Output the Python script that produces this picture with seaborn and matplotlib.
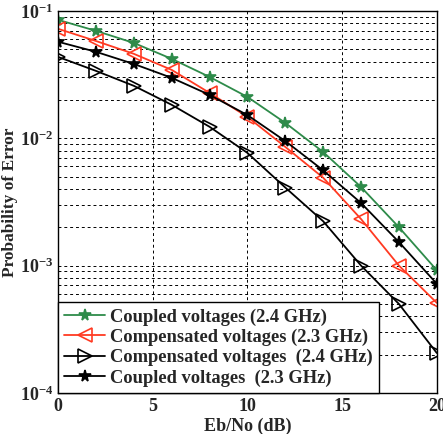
import matplotlib
matplotlib.use("Agg")
import matplotlib.pyplot as plt
import seaborn as sns
import pandas as pd
import numpy as np
from matplotlib.ticker import LogLocator, FixedLocator

ebno = [0, 2, 4, 6, 8, 10, 12, 14, 16, 18, 20]
coupled_24 = [0.085, 0.0697, 0.056, 0.042, 0.0303, 0.0211, 0.0132, 0.0078, 0.00414, 0.0020, 0.00092]
comp_23 = [0.0723, 0.058, 0.046, 0.0344, 0.0227, 0.0147, 0.00855, 0.0049, 0.00232, 0.0010, 0.00051]
comp_24 = [0.0435, 0.0338, 0.0258, 0.0183, 0.0123, 0.00767, 0.0041, 0.00223, 0.0010, 0.0005, 0.000206]
coupled_23 = [0.0572, 0.0477, 0.0383, 0.0298, 0.0219, 0.0152, 0.0095, 0.0056, 0.0031, 0.00153, 0.00072]

labels = ["Coupled voltages (2.4 GHz)", "Compensated voltages (2.3 GHz)",
          "Compensated voltages  (2.4 GHz)", "Coupled voltages  (2.3 GHz)"]
series = [coupled_24, comp_23, comp_24, coupled_23]
colors = ["#2e8b4a", "#ff3a22", "#000000", "#000000"]
markers = ["*", "<", ">", "*"]
msizes = [8.5, 9.5, 9.5, 8.5]
mfaces = ["#2e8b4a", "none", "none", "#000000"]

sns.set_theme(style="white")
plt.rcParams["font.family"] = ["Liberation Serif", "DejaVu Serif"]
plt.rcParams["font.weight"] = "bold"
plt.rcParams["mathtext.fontset"] = "custom"
plt.rcParams["mathtext.rm"] = "Liberation Serif:bold"
plt.rcParams["mathtext.it"] = "Liberation Serif:bold"
plt.rcParams["mathtext.bf"] = "Liberation Serif:bold"
plt.rcParams["mathtext.default"] = "rm"

fig = plt.figure(figsize=(4.43, 4.34), dpi=100)
ax = fig.add_axes([0.131, 0.0945, 0.855, 0.8805])

rows = []
for lab, vals in zip(labels, series):
    for x, v in zip(ebno, vals):
        rows.append({"Eb/No": x, "Pe": v, "series": lab})
df = pd.DataFrame(rows)

for lab, c, m, ms, mf in zip(labels, colors, markers, msizes, mfaces):
    sub = df[df["series"] == lab]
    sns.lineplot(data=sub, x="Eb/No", y="Pe", ax=ax, color=c, marker=m,
                 markersize=ms, markerfacecolor=mf, markeredgecolor=c,
                 markeredgewidth=1.2, linewidth=1.3, label=lab)

ax.set_yscale("log")
ax.set_xlim(0, 20)
ax.set_ylim(1e-4, 1e-1)
ax.xaxis.set_major_locator(FixedLocator([0, 5, 10, 15, 20]))
ax.yaxis.set_major_locator(LogLocator(base=10, numticks=10))
ax.yaxis.set_minor_locator(LogLocator(base=10, subs=np.arange(2, 10), numticks=20))
ax.grid(True, which="major", color="black", linestyle=(0, (3, 3)), linewidth=0.7)
ax.grid(True, which="minor", axis="y", color="black", linestyle=(0, (3, 3)), linewidth=0.7)
ax.tick_params(axis="both", which="both", direction="in", labelsize=13, length=4)
ax.tick_params(axis="y", which="minor", length=2)
for lbl in ax.get_xticklabels() + ax.get_yticklabels():
    lbl.set_fontweight("bold")
for sp in ax.spines.values():
    sp.set_color("black")
    sp.set_linewidth(1.0)

ax.set_xlabel("Eb/No (dB)", fontsize=13, fontweight="bold", labelpad=2)
ax.set_ylabel("Probability of Error", fontsize=12.5, fontweight="bold")
ax.yaxis.set_label_coords(-0.106, 0.5)

leg = ax.legend(loc="lower left", frameon=True, fancybox=False,
                borderpad=0.35, labelspacing=0.16, handlelength=2.2, handletextpad=0.25,
                borderaxespad=0.0, prop={"weight": "bold", "size": 13.3})
leg.get_frame().set_edgecolor("black")
leg.get_frame().set_linewidth(1.0)
leg.get_frame().set_alpha(1)

fig.savefig("out.png", dpi=100)
